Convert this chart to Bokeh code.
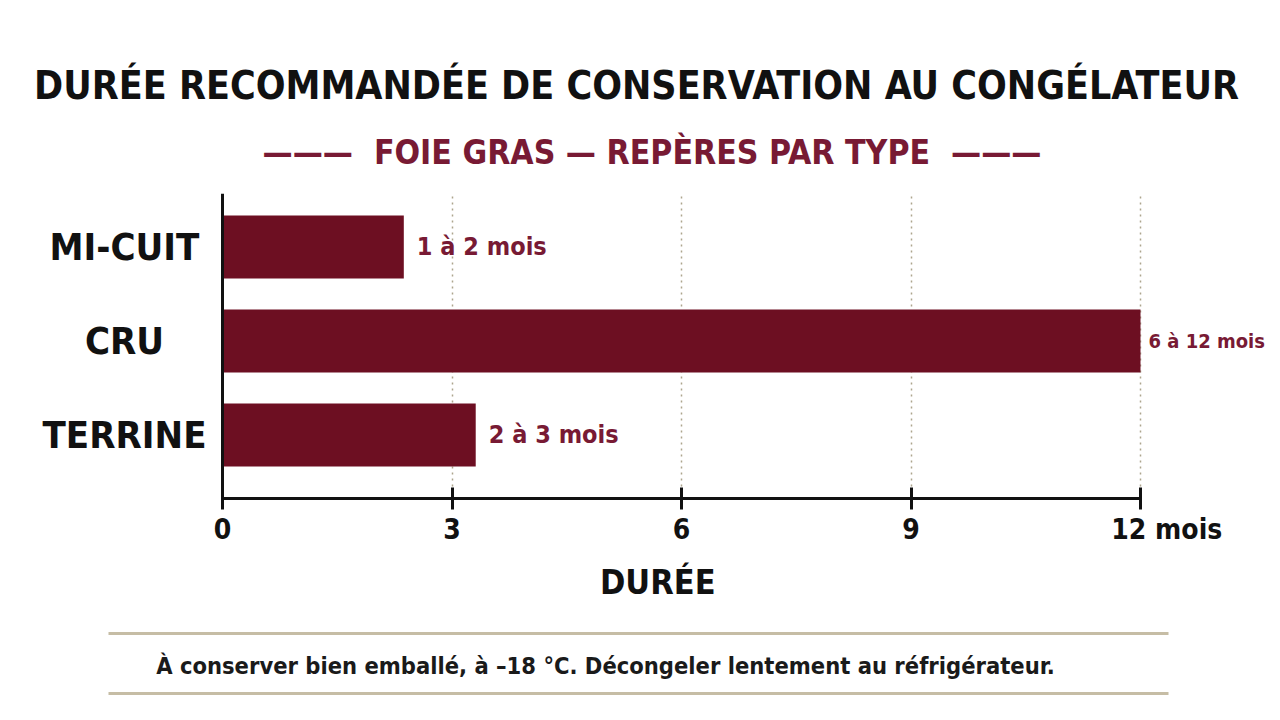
from bokeh.embed import file_html
from bokeh.layouts import column
from bokeh.models import (BooleanFilter, CDSView, ColumnDataSource, FixedTicker, Label, Range1d,
                          Span, Title)
from bokeh.plotting import figure
from bokeh.resources import INLINE

# values
categories = ["MI-CUIT", "CRU", "TERRINE"]
durations = [2.37, 12.0, 3.31]  # bar length, months
duration_labels = ["1 à 2 mois", "6 à 12 mois", "2 à 3 mois"]
x_ticks = [0, 3, 6, 9, 12]
x_tick_labels = ["0", "3", "6", "9", "\u2007\u2007\u200712 mois"]

title = "DURÉE RECOMMANDÉE DE CONSERVATION AU CONGÉLATEUR"
subtitle = "———\u00a0\u00a0FOIE GRAS — REPÈRES PAR TYPE\u00a0\u00a0———"
x_label = "\u2007\u2007DURÉE"
note = "À conserver bien emballé, à –18 °C. Décongeler lentement au réfrigérateur."

FONT = "DejaVu Sans Condensed, Roboto"
MAROON = "#6d0f22"
LABEL_RED = "#781a34"
INK = "#111111"
RULE = "#c6bda5"
GRID = "#ada58e"
W = 1272

# main chart, frame spans the whole width; 0 months sits 222px from the left
px_per_month = 76.5
ys = list(range(len(categories)))[::-1]
src = ColumnDataSource(dict(y=ys, dur=durations, cat=categories, lab=duration_labels))

p = figure(width=W, height=620,
           x_range=Range1d(-222 / px_per_month, (W - 222) / px_per_month),
           y_range=Range1d(-0.676, 2.569),
           y_axis_location=None, toolbar_location=None, output_backend="svg")
p.outline_line_color = None
p.min_border_left = 0
p.min_border_right = 0
p.min_border_top = 193
p.min_border_bottom = 122

# first title sits on top, the one added after it lies next to the frame
p.title.text = title
p.title.align = "center"
p.title.text_font = FONT
p.title.text_font_style = "bold"
p.title.text_font_size = "39px"
p.title.text_color = INK
p.title.standoff = 2
p.add_layout(Title(text=subtitle, align="left", offset=262, text_font=FONT,
                   text_font_style="bold", text_font_size="33.5px", text_color=LABEL_RED,
                   standoff=44), "above")

p.hbar(y="y", left=0, right="dur", height=0.67, source=src, fill_color=MAROON, line_color=None)

# the bar that runs to the end of the axis gets a tighter label so it fits
long_bar = [d >= x_ticks[-1] for d in durations]
label_style = dict(text_align="left", text_baseline="middle", text_font={"value": FONT},
                   text_font_style="bold", text_color=LABEL_RED)
p.text(x="dur", y="y", text="lab", source=src,
       view=CDSView(filter=BooleanFilter([not b for b in long_bar])),
       x_offset=13, text_font_size="25px", **label_style)
p.text(x="dur", y="y", text="lab", source=src, view=CDSView(filter=BooleanFilter(long_bar)),
       x_offset=8, text_font_size="20px", **label_style)

p.text(x=0, y="y", text="cat", source=src, x_offset=-98, text_align="center",
       text_baseline="middle", text_font={"value": FONT}, text_font_style="bold",
       text_font_size="38px", text_color=INK)

# y axis line
p.add_layout(Span(location=0, dimension="height", line_color=INK, line_width=3))

p.xaxis.ticker = FixedTicker(ticks=x_ticks)
p.xaxis.major_label_overrides = {t: s for t, s in zip(x_ticks, x_tick_labels)}
p.xaxis.bounds = (x_ticks[0], x_ticks[-1])
p.xaxis.axis_line_width = 3
p.xaxis.axis_line_color = INK
p.xaxis.major_tick_line_width = 3
p.xaxis.major_tick_line_color = INK
p.xaxis.major_tick_in = 11
p.xaxis.major_tick_out = 11
p.xaxis.minor_tick_line_color = None
p.xaxis.major_label_standoff = 3
p.xaxis.major_label_text_font = FONT
p.xaxis.major_label_text_font_style = "bold"
p.xaxis.major_label_text_font_size = "28px"
p.xaxis.major_label_text_color = INK
p.xaxis.axis_label = x_label
p.xaxis.axis_label_standoff = 13
p.xaxis.axis_label_text_font = FONT
p.xaxis.axis_label_text_font_style = "bold"
p.xaxis.axis_label_text_font_size = "34px"
p.xaxis.axis_label_text_color = INK

p.xgrid.ticker = FixedTicker(ticks=x_ticks[1:])
p.xgrid.grid_line_color = GRID
p.xgrid.grid_line_dash = "2 4"
p.xgrid.grid_line_width = 1.5
p.ygrid.visible = False

# footer note between two rules (canvas pixel coordinates)
foot = figure(width=W, height=92, x_range=Range1d(0, W), y_range=Range1d(92, 0),
              x_axis_type=None, y_axis_type=None, toolbar_location=None, output_backend="svg")
foot.outline_line_color = None
foot.min_border = 0
foot.grid.visible = False
foot.segment(x0=[108, 108], x1=[1168, 1168], y0=[13, 73], y1=[13, 73],
             line_color=RULE, line_width=3)
foot.add_layout(Label(x=605, y=45, text=note, text_align="center", text_baseline="middle",
                      text_font=FONT, text_font_style="bold", text_font_size="23.5px",
                      text_color="#1a1a1a"))

layout = column(p, foot)
open("out.html", "w").write(file_html(layout, INLINE))
